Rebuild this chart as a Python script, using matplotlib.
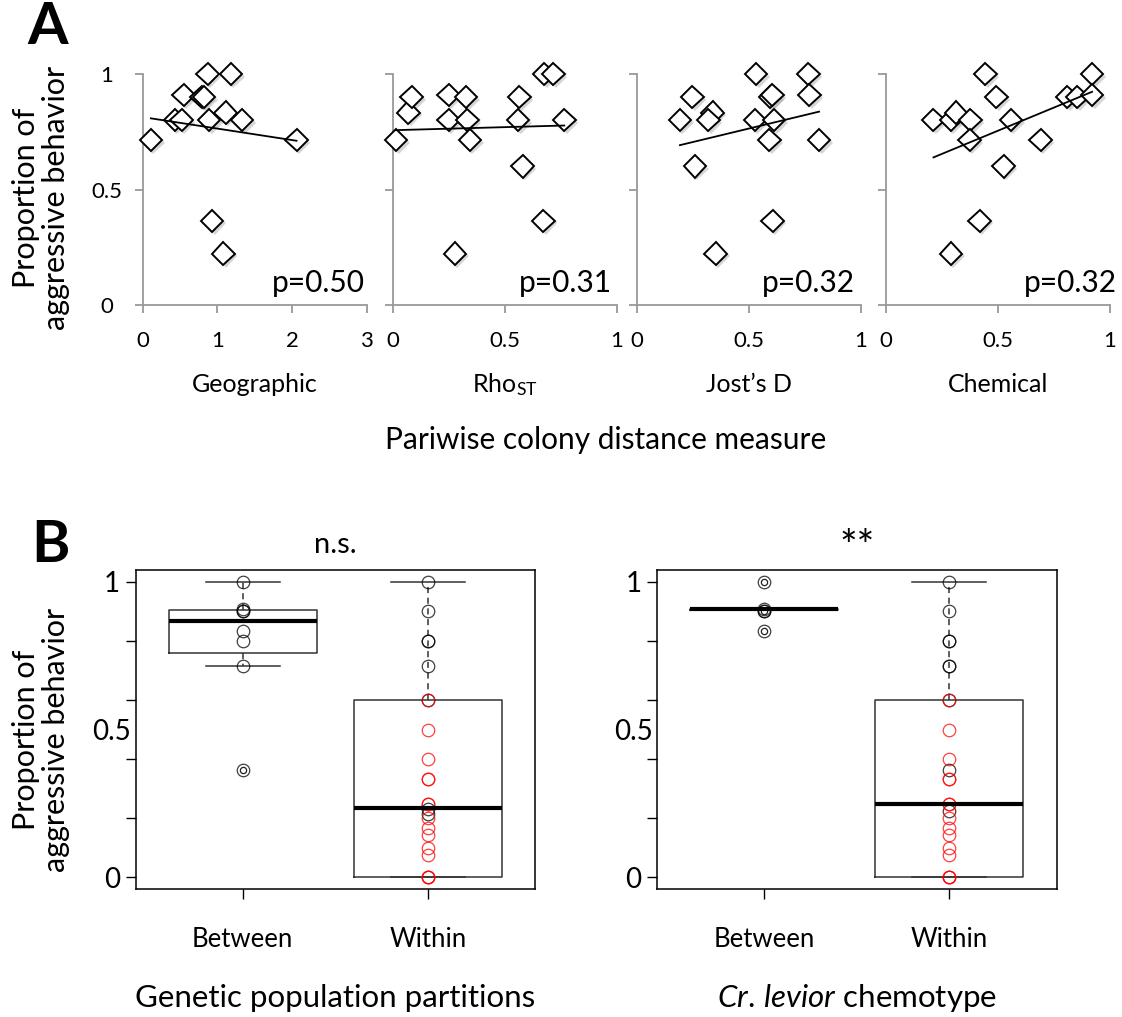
import matplotlib
matplotlib.use("Agg")
import matplotlib.pyplot as plt
import matplotlib.patheffects as pe
import numpy as np

plt.rcParams['font.family'] = ['Lato', 'DejaVu Sans']
plt.rcParams['mathtext.fontset'] = 'custom'
plt.rcParams['mathtext.rm'] = 'Lato'
plt.rcParams['mathtext.it'] = 'Lato:italic'

# ---- panel A data: pairwise distance vs proportion of aggression ----
geo_x = [0.11, 0.43, 0.52, 0.55, 0.79, 0.82, 0.87, 0.89, 1.18, 1.11, 1.33, 2.06, 0.93, 1.08]
geo_y = [0.714, 0.8, 0.8, 0.909, 0.9, 0.9, 1.0, 0.8, 1.0, 0.833, 0.8, 0.714, 0.364, 0.222]

rho_x = [0.015, 0.07, 0.085, 0.25, 0.25, 0.327, 0.333, 0.345, 0.278, 0.565, 0.56, 0.58, 0.673, 0.677, 0.717, 0.766]
rho_y = [0.714, 0.833, 0.9, 0.909, 0.8, 0.9, 0.8, 0.714, 0.222, 0.9, 0.8, 0.6, 0.364, 1.0, 1.0, 0.8]

jost_x = [0.193, 0.249, 0.26, 0.339, 0.32, 0.353, 0.533, 0.528, 0.595, 0.606, 0.613, 0.592, 0.607, 0.766, 0.771, 0.814]
jost_y = [0.8, 0.9, 0.6, 0.833, 0.8, 0.222, 1.0, 0.8, 0.9, 0.909, 0.8, 0.714, 0.364, 1.0, 0.909, 0.714]

chem_x = [0.212, 0.29, 0.313, 0.376, 0.373, 0.443, 0.493, 0.525, 0.558, 0.418, 0.29, 0.69, 0.81, 0.854, 0.92, 0.92]
chem_y = [0.8, 0.8, 0.833, 0.8, 0.714, 1.0, 0.9, 0.6, 0.8, 0.364, 0.222, 0.714, 0.9, 0.9, 1.0, 0.909]

# trend line values at min / max x
geo_fit = [0.808, 0.711]
rho_fit = [0.757, 0.777]
jost_fit = [0.692, 0.837]
chem_fit = [0.639, 0.923]

p_values = ["p=0.50", "p=0.31", "p=0.32", "p=0.32"]
measure_names = ["Geographic", r"Rho$_{\mathrm{ST}}$", "Jost\u2019s D", "Chemical"]

# ---- panel B data ----
gen_between = [1.0, 0.909, 0.9, 0.9, 0.833, 0.8, 0.714, 0.364]
gen_within_black = [1.0, 0.9, 0.8, 0.8, 0.714, 0.6, 0.231, 0.214]
chem_between = [1.0, 0.909, 0.9, 0.9, 0.833]
chem_within_black = [1.0, 0.9, 0.8, 0.8, 0.714, 0.714, 0.6, 0.364, 0.226]
within_red = [0.6, 0.5, 0.4, 0.333, 0.333, 0.25, 0.25, 0.2, 0.167, 0.143, 0.1, 0.077, 0.0, 0.0, 0.0]

gen_boxes = [dict(whislo=0.714, q1=0.758, med=0.866, q3=0.905, whishi=1.0, fliers=[0.364]),
             dict(whislo=0.0, q1=0.0, med=0.235, q3=0.6, whishi=1.0, fliers=[])]
chem_boxes = [dict(whislo=0.905, q1=0.905, med=0.907, q3=0.909, whishi=0.909, fliers=[1.0, 0.9, 0.833]),
              dict(whislo=0.0, q1=0.0, med=0.248, q3=0.6, whishi=1.0, fliers=[])]
group_labels = ["Between", "Within"]

W, H = 1122, 1017
fig = plt.figure(figsize=(W / 100, H / 100), dpi=100)


def fx(px):
    return px / W


def fy(py):
    return 1 - py / H


# ---------------- panel A ----------------
a_lefts = [142.7, 392.7, 636.7, 886.0]
a_w, a_top, a_bot = 224, 74, 305
series = [(geo_x, geo_y, geo_fit), (rho_x, rho_y, rho_fit),
          (jost_x, jost_y, jost_fit), (chem_x, chem_y, chem_fit)]
xmax = [3, 1, 1, 1]
xticks = [[0, 1, 2, 3], [0, 0.5, 1], [0, 0.5, 1], [0, 0.5, 1]]
xticklabels = [["0", "1", "2", "3"], ["0", "0.5", "1"], ["0", "0.5", "1"], ["0", "0.5", "1"]]
p_xpos = [0.99, 0.98, 0.975, 1.03]
shadow = [pe.SimplePatchShadow(offset=(1.8, -1.8), shadow_rgbFace='0.55', alpha=0.35), pe.Normal()]

for i, (xs, ys, fit) in enumerate(series):
    ax = fig.add_axes([fx(a_lefts[i]), fy(a_bot), a_w / W, (a_bot - a_top) / H])
    ax.plot(xs, ys, linestyle='none', marker='D', ms=11.5, mfc='white', mec='black',
            mew=1.4, clip_on=False, zorder=3, path_effects=shadow)
    ax.plot([min(xs), max(xs)], fit, color='black', lw=1.3, zorder=4, clip_on=False)
    ax.set_xlim(0, xmax[i])
    ax.set_ylim(0, 1)
    for s in ['top', 'right']:
        ax.spines[s].set_visible(False)
    for s in ['left', 'bottom']:
        ax.spines[s].set_color('#999999')
        ax.spines[s].set_linewidth(1.3)
    ax.set_xticks(xticks[i])
    ax.set_xticklabels(xticklabels[i])
    ax.set_yticks([0, 0.5, 1])
    if i == 0:
        ax.set_yticklabels(["0", "0.5", "1"])
        for lbl in ax.get_yticklabels():
            lbl.set_horizontalalignment('center')
    else:
        ax.set_yticklabels([])
    ax.tick_params(axis='both', direction='out', length=6, width=1.3, color='#999999',
                   labelsize=16)
    ax.tick_params(axis='x', pad=13)
    ax.tick_params(axis='y', pad=20)
    ax.patch.set_visible(False)
    ax.text(p_xpos[i], 0.095, p_values[i], transform=ax.transAxes, ha='right', va='center',
            fontsize=21.5)
    ax.text(0.5, -(385 - a_bot) / (a_bot - a_top), measure_names[i], transform=ax.transAxes,
            ha='center', va='center', fontsize=18)

fig.text(fx(606), fy(440), "Pariwise colony distance measure", ha='center', va='center', fontsize=21.5)
fig.text(fx(48), fy(28), "A", ha='center', va='center', fontsize=42, fontweight='bold')
fig.text(fx(41), fy(198), "Proportion of\naggressive behavior", rotation=90, ha='center',
         va='center', fontsize=22, linespacing=1.1, multialignment='center')

# ---------------- panel B ----------------
b_lefts = [135.5, 657.0]
b_w, b_top, b_bot = 399.5, 570, 889.3
b_data = [(gen_boxes, gen_between, gen_within_black), (chem_boxes, chem_between, chem_within_black)]
b_titles = ["n.s.", "**"]
b_title_sizes = [21, 30]
b_title_y = [545, 548]
b_xlabels = ["Genetic population partitions", r"$\mathit{Cr.\,levior}$ chemotype"]

for i, (boxes, betw, with_black) in enumerate(b_data):
    ax = fig.add_axes([fx(b_lefts[i]), fy(b_bot), b_w / W, (b_bot - b_top) / H])
    ax.bxp(boxes, positions=[1, 2], widths=0.8, capwidths=0.4,
           boxprops=dict(color='#333333', lw=1.1),
           medianprops=dict(color='black', lw=3),
           whiskerprops=dict(color='#333333', lw=1.1, ls=(0, (4, 3))),
           capprops=dict(color='#333333', lw=1.1),
           flierprops=dict(marker='o', ms=4.5, mfc='none', mec='#222222', mew=0.9))
    ax.plot([1] * len(betw), betw, 'o', ms=9, mfc='none', mec='black', mew=0.9, alpha=0.75)
    ax.plot([2] * len(with_black), with_black, 'o', ms=9, mfc='none', mec='black', mew=0.9,
            alpha=0.75)
    ax.plot([2] * len(within_red), within_red, 'o', ms=9, mfc='none', mec='#ff0000', mew=0.9,
            alpha=0.75)
    ax.set_xlim(0.42, 2.58)
    ax.set_ylim(-0.04, 1.04)
    for s in ax.spines.values():
        s.set_linewidth(1.1)
    ax.set_xticks([1, 2])
    ax.set_xticklabels(group_labels)
    ax.set_yticks(np.arange(0, 1.01, 0.2))
    ax.set_yticklabels([])
    ax.yaxis.remove_overlapping_locs = False
    ax.set_yticks([0, 0.5, 1], minor=True)
    ax.set_yticklabels(["0", "0.5", "1"], minor=True)
    for lbl in ax.get_yticklabels(minor=True):
        lbl.set_horizontalalignment('center')
    ax.tick_params(axis='both', which='major', direction='out', length=7, width=1)
    ax.tick_params(axis='x', labelsize=18.5, pad=20)
    ax.tick_params(axis='y', which='minor', length=0, labelsize=20, pad=17)
    ax.text(0.5, 1 + (b_top - b_title_y[i]) / (b_bot - b_top), b_titles[i], transform=ax.transAxes,
            ha='center', va='center', fontsize=b_title_sizes[i])
    fig.text(fx(b_lefts[i] + b_w / 2), fy(998), b_xlabels[i], ha='center', va='center',
             fontsize=22.5)

fig.text(fx(50), fy(545), "B", ha='center', va='center', fontsize=42, fontweight='bold')
fig.text(fx(41), fy(740), "Proportion of\naggressive behavior", rotation=90, ha='center',
         va='center', fontsize=22, linespacing=1.1, multialignment='center')

fig.savefig("out.png", dpi=100)
